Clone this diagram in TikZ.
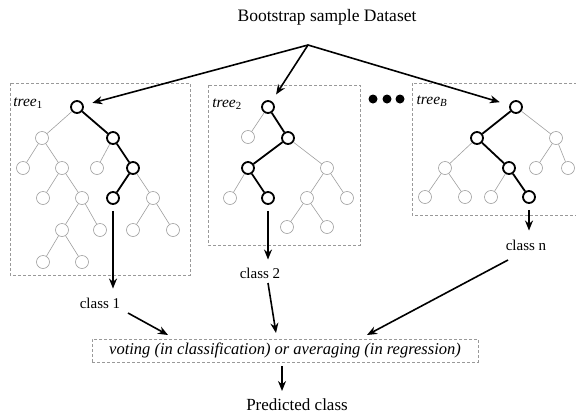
\documentclass[tikz,border=0pt]{standalone}
\usepackage{fontspec}
\setmainfont{Liberation Serif}
\usetikzlibrary{arrows.meta}
\begin{document}
\begin{tikzpicture}[x=1pt,y=-1pt,
 leaf/.style={circle,draw=gray!75,line width=0.6pt,minimum size=13pt,inner sep=0pt},
 hot/.style={circle,draw=black,line width=1.8pt,minimum size=12pt,inner sep=0pt},
 thinedge/.style={draw=gray!75,line width=0.6pt},
 thickedge/.style={draw=black,line width=1.8pt},
 dbox/.style={draw=gray!80,dash pattern=on 3pt off 2pt,line width=0.6pt},
 arr/.style={-{Stealth[length=10pt,width=8pt]},line width=1.6pt},
 lbl/.style={font=\fontsize{15}{17}\selectfont,inner sep=0pt},
 tlbl/.style={font=\fontsize{15.5}{17}\selectfont,inner sep=0pt},
 dot/.style={circle,fill=black,inner sep=0pt,minimum size=9pt}
]
\useasboundingbox (0,0) rectangle (576,418);

% title
\node[font=\fontsize{17.5}{20}\selectfont,inner sep=0pt] (title) at (327,17) {Bootstrap sample Dataset};
\coordinate (fork) at (308,45);

% boxes
\draw[dbox] (10,83) rectangle (190,275);
\draw[dbox] (208,85) rectangle (360,245);
\draw[dbox] (412,83) rectangle (590,215);

\node[tlbl] (l1) at (28,103) {\textit{tree}\textsubscript{1}};
\node[tlbl] (l2) at (227,104) {\textit{tree}\textsubscript{2}};
\node[tlbl] (lB) at (432,101) {\textit{tree}\textsubscript{\textit{B}}};

% dots
\node[dot] (d1) at (373,99) {};
\node[dot] (d2) at (387,99) {};
\node[dot] (d3) at (400,99) {};

% tree 1
\node[hot]  (t1r) at (77,107) {};
\node[leaf] (t1a) at (42,138) {};
\node[hot]  (t1b) at (113,138) {};
\node[leaf] (t1c) at (23,168) {};
\node[leaf] (t1d) at (62,168) {};
\node[leaf] (t1e) at (97,168) {};
\node[hot]  (t1f) at (133,168) {};
\node[leaf] (t1g) at (43,198) {};
\node[leaf] (t1h) at (82,198) {};
\node[hot]  (t1i) at (113,198) {};
\node[leaf] (t1j) at (153,198) {};
\node[leaf] (t1k) at (62,230) {};
\node[leaf] (t1l) at (100,230) {};
\node[leaf] (t1m) at (133,230) {};
\node[leaf] (t1n) at (173,230) {};
\node[leaf] (t1o) at (43,262) {};
\node[leaf] (t1p) at (82,262) {};
\draw[thickedge] (t1r) -- (t1b);
\draw[thickedge] (t1b) -- (t1f);
\draw[thickedge] (t1f) -- (t1i);
\draw[thinedge] (t1r) -- (t1a);
\draw[thinedge] (t1a) -- (t1c);
\draw[thinedge] (t1a) -- (t1d);
\draw[thinedge] (t1b) -- (t1e);
\draw[thinedge] (t1f) -- (t1j);
\draw[thinedge] (t1d) -- (t1g);
\draw[thinedge] (t1d) -- (t1h);
\draw[thinedge] (t1h) -- (t1k);
\draw[thinedge] (t1h) -- (t1l);
\draw[thinedge] (t1j) -- (t1m);
\draw[thinedge] (t1j) -- (t1n);
\draw[thinedge] (t1k) -- (t1o);
\draw[thinedge] (t1k) -- (t1p);

% tree 2
\node[hot]  (t2r) at (268,107) {};
\node[leaf] (t2a) at (248,137) {};
\node[hot]  (t2b) at (288,138) {};
\node[hot]  (t2c) at (248,168) {};
\node[leaf] (t2d) at (327,168) {};
\node[leaf] (t2e) at (230,198) {};
\node[hot]  (t2f) at (268,198) {};
\node[leaf] (t2g) at (307,198) {};
\node[leaf] (t2h) at (347,198) {};
\node[leaf] (t2i) at (287,227) {};
\node[leaf] (t2j) at (327,227) {};
\draw[thickedge] (t2r) -- (t2b);
\draw[thickedge] (t2b) -- (t2c);
\draw[thickedge] (t2c) -- (t2f);
\draw[thinedge] (t2r) -- (t2a);
\draw[thinedge] (t2b) -- (t2d);
\draw[thinedge] (t2c) -- (t2e);
\draw[thinedge] (t2d) -- (t2g);
\draw[thinedge] (t2d) -- (t2h);
\draw[thinedge] (t2g) -- (t2i);
\draw[thinedge] (t2g) -- (t2j);

% tree B
\node[hot]  (tBr) at (516,107) {};
\node[hot]  (tBa) at (477,138) {};
\node[leaf] (tBb) at (556,138) {};
\node[leaf] (tBc) at (445,168) {};
\node[hot]  (tBd) at (509,168) {};
\node[leaf] (tBe) at (536,168) {};
\node[leaf] (tBf) at (568,168) {};
\node[leaf] (tBg) at (425,197) {};
\node[leaf] (tBh) at (465,197) {};
\node[leaf] (tBi) at (491,197) {};
\node[hot]  (tBj) at (529,197) {};
\draw[thickedge] (tBr) -- (tBa);
\draw[thickedge] (tBa) -- (tBd);
\draw[thickedge] (tBd) -- (tBj);
\draw[thinedge] (tBr) -- (tBb);
\draw[thinedge] (tBa) -- (tBc);
\draw[thinedge] (tBb) -- (tBe);
\draw[thinedge] (tBb) -- (tBf);
\draw[thinedge] (tBc) -- (tBg);
\draw[thinedge] (tBc) -- (tBh);
\draw[thinedge] (tBd) -- (tBi);

% fork arrows
\draw[arr,shorten >=9pt] (fork) -- (t1r);
\draw[arr,shorten >=8pt] (fork) -- (t2r);
\draw[arr,shorten >=10pt] (fork) -- (tBr);

% class labels
\node[lbl] (c1) at (100,303) {class 1};
\node[lbl] (c2) at (260,273) {class 2};
\node[lbl] (cn) at (526,245) {class n};

\draw[arr,shorten <=6pt,shorten >=9pt] (t1i) -- (t1i |- c1.north);
\draw[arr,shorten <=6pt,shorten >=8pt] (t2f) -- (t2f |- c2.north);
\draw[arr,shorten <=6pt,shorten >=9pt] (tBj) -- (tBj |- cn.north);

% voting box
\node[dbox,minimum width=386pt,minimum height=23pt,inner sep=0pt,
      font=\fontsize{16.5}{18}\selectfont\itshape] (vote) at (285,350.5)
  {voting (in classification) or averaging (in regression)};

\coordinate (v1) at (168,335);
\coordinate (v2) at (276,333);
\coordinate (vn) at (367,335);
\coordinate (s1) at (128,313);
\coordinate (s2) at (268,283);
\coordinate (sn) at (508,260);
\draw[arr] (s1) -- (v1);
\draw[arr] (s2) -- (v2);
\draw[arr] (sn) -- (vn);

% predicted
\node[font=\fontsize{17}{20}\selectfont,inner sep=0pt] (pred) at (297,405) {Predicted class};
\coordinate (vout) at (282,366);
\coordinate (pin) at (282,391);
\draw[arr] (vout) -- (pin);
\end{tikzpicture}
\end{document}
